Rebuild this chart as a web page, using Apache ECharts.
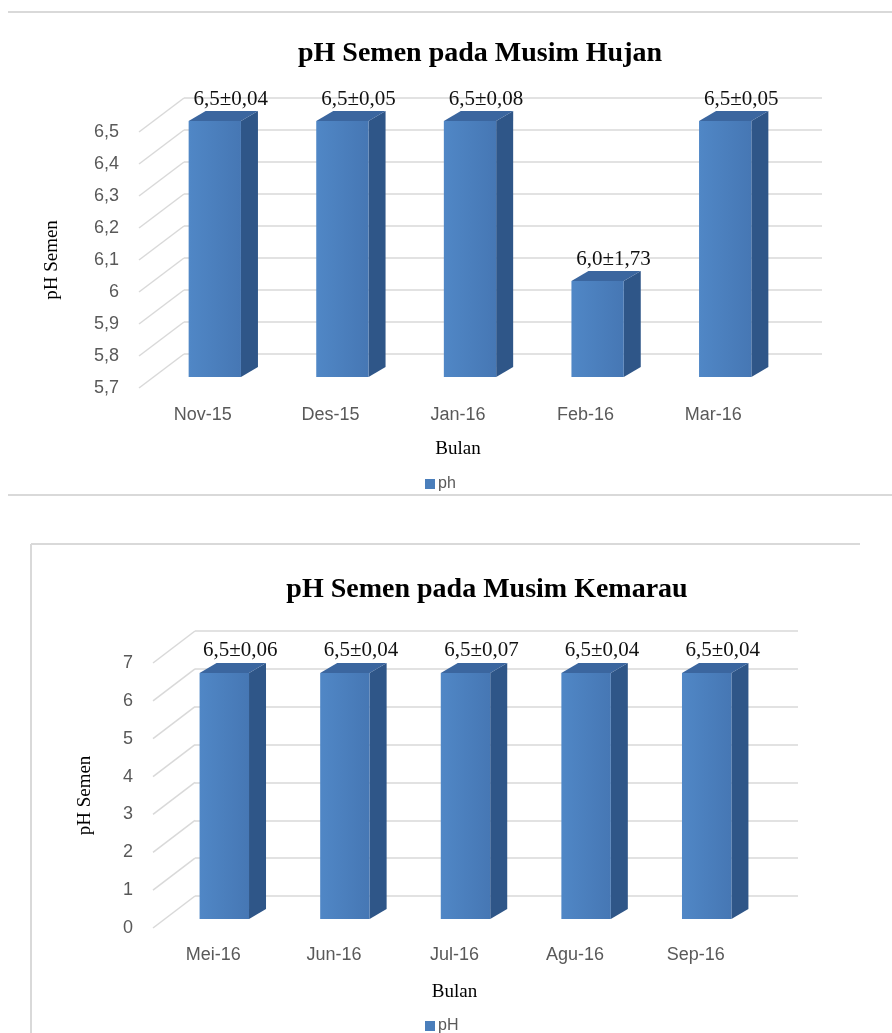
<!DOCTYPE html>
<html>
<head>
<meta charset="utf-8">
<script src="https://cdn.jsdelivr.net/npm/echarts@6/dist/echarts.min.js"></script>
<style>
  html, body { margin: 0; padding: 0; background: #fff; }
  #chart { width: 892px; height: 1033px; }
</style>
</head>
<body>
<div id="chart"></div>
<script>
// musim hujan
const hujanBulan = ['Nov-15', 'Des-15', 'Jan-16', 'Feb-16', 'Mar-16'];
const hujanPh = [6.5, 6.5, 6.5, 6.0, 6.5];
const hujanSd = [0.04, 0.05, 0.08, 1.73, 0.05];
const hujanTicks = [5.7, 5.8, 5.9, 6.0, 6.1, 6.2, 6.3, 6.4, 6.5];

// musim kemarau
const kemarauBulan = ['Mei-16', 'Jun-16', 'Jul-16', 'Agu-16', 'Sep-16'];
const kemarauPh = [6.5, 6.5, 6.5, 6.5, 6.5];
const kemarauSd = [0.06, 0.04, 0.07, 0.04, 0.04];
const kemarauTicks = [0, 1, 2, 3, 4, 5, 6, 7];

const grey = '#595959';
const gridGrey = '#d9d9d9';
const blue = '#4a7ebb';

const koma = (v, d) => v.toFixed(d).replace('.', ',');

// 3d look: back wall shift, bar front shift, bar depth
function bar3d(sd, front, side) {
  return function (params, api) {
    const i = api.value(0);
    const v = api.value(1);
    const top = api.coord([i, v]);
    const base = api.coord([i, api.value(2)]);
    const w = api.size([1, 0])[0] * 0.41;
    const x0 = top[0] - w / 2 + front[0];
    const x1 = x0 + w;
    const yt = top[1] - front[1];
    const yb = base[1] - front[1];
    const dx = side[0], dy = side[1];
    const label = koma(v, 1) + '±' + koma(sd[params.dataIndex], 2);
    return {
      type: 'group',
      children: [
        {type: 'polygon', shape: {points: [[x1, yt], [x1 + dx, yt - dy], [x1 + dx, yb - dy], [x1, yb]]},
          style: {fill: '#2f5688'}},
        {type: 'polygon', shape: {points: [[x0, yt], [x0 + dx, yt - dy], [x1 + dx, yt - dy], [x1, yt]]},
          style: {fill: '#3b669f'}},
        {type: 'rect', shape: {x: x0, y: yt, width: w, height: yb - yt},
          style: {fill: new echarts.graphic.LinearGradient(0, 0, 1, 0, [
            {offset: 0, color: '#5087c6'}, {offset: 1, color: '#4677b4'}])}},
        {type: 'text', style: {text: label, x: (x0 + x1) / 2 + 16, y: yt - 22,
          align: 'center', verticalAlign: 'middle',
          font: '21px "Liberation Serif"', fill: '#111'}}
      ]
    };
  };
}

function diagonal(shift) {
  return function (params, api) {
    const p = api.coord([0, api.value(1)]);
    const x = params.coordSys.x;
    return {
      type: 'line',
      shape: {x1: x, y1: p[1], x2: x + shift[0], y2: p[1] - shift[1]},
      style: {stroke: gridGrey, lineWidth: 1.5}
    };
  };
}

const frontY = (min, max, interval, fmt, name, gap, idx) => ({
  type: 'value', gridIndex: idx, min, max, interval,
  name, nameLocation: 'middle', nameGap: gap, nameRotate: 90,
  nameTextStyle: {fontFamily: 'Liberation Serif', fontSize: 19, color: '#000'},
  axisLine: {show: false}, axisTick: {show: false}, splitLine: {show: false},
  axisLabel: {margin: 20, fontSize: 18, color: grey, fontFamily: 'Liberation Sans', formatter: fmt}
});
const backY = (min, max, interval, idx) => ({
  type: 'value', gridIndex: idx, min, max, interval,
  axisLine: {show: false}, axisTick: {show: false}, axisLabel: {show: false},
  splitLine: {lineStyle: {color: gridGrey, width: 1.5}}
});
const frontX = (data, gap, idx) => ({
  type: 'category', gridIndex: idx, data,
  name: 'Bulan', nameLocation: 'middle', nameGap: gap,
  nameTextStyle: {fontFamily: 'Liberation Serif', fontSize: 19, color: '#000'},
  axisLine: {show: false}, axisTick: {show: false},
  axisLabel: {margin: 18, fontSize: 18, color: grey, fontFamily: 'Liberation Sans'}
});
const backX = (data, idx) => ({type: 'category', gridIndex: idx, data, show: false});

const hujanShift = [45, 34];
const kemarauShift = [42, 32];

const chart = echarts.init(document.getElementById('chart'));
chart.setOption({
  animation: false,
  backgroundColor: '#fff',
  title: [
    {text: 'pH Semen pada Musim Hujan', left: 475, top: 35, textAlign: 'center',
      textStyle: {fontFamily: 'Liberation Serif', fontWeight: 'bold', fontSize: 28, color: '#000'}},
    {text: 'pH Semen pada Musim Kemarau', left: 482, top: 571, textAlign: 'center',
      textStyle: {fontFamily: 'Liberation Serif', fontWeight: 'bold', fontSize: 28, color: '#000'}}
  ],
  legend: [
    {data: ['ph'], left: 420, top: 471, icon: 'rect', itemWidth: 10, itemHeight: 10, itemGap: 4,
      textStyle: {color: grey, fontSize: 16, fontFamily: 'Liberation Sans', padding: [0, 0, 0, -2]}},
    {data: ['pH'], left: 420, top: 1013, icon: 'rect', itemWidth: 10, itemHeight: 10, itemGap: 4,
      textStyle: {color: grey, fontSize: 16, fontFamily: 'Liberation Sans', padding: [0, 0, 0, -2]}}
  ],
  grid: [
    {left: 139, top: 132, width: 638, height: 256},
    {left: 139 + hujanShift[0], top: 132 - hujanShift[1], width: 638, height: 256},
    {left: 153, top: 663, width: 603, height: 265},
    {left: 153 + kemarauShift[0], top: 663 - kemarauShift[1], width: 603, height: 265}
  ],
  xAxis: [
    frontX(hujanBulan, 52, 0),
    backX(hujanBulan, 1),
    frontX(kemarauBulan, 55, 2),
    backX(kemarauBulan, 3)
  ],
  yAxis: [
    frontY(5.7, 6.5, 0.1, v => String(+v.toFixed(1)).replace('.', ','), 'pH Semen', 77, 0),
    backY(5.7, 6.5, 0.1, 1),
    frontY(0, 7, 1, v => String(v), 'pH Semen', 58, 2),
    backY(0, 7, 1, 3)
  ],
  graphic: [
    {type: 'line', shape: {x1: 8, y1: 12, x2: 892, y2: 12}, style: {stroke: gridGrey, lineWidth: 2}},
    {type: 'line', shape: {x1: 8, y1: 495, x2: 892, y2: 495}, style: {stroke: gridGrey, lineWidth: 2}},
    {type: 'line', shape: {x1: 31, y1: 544, x2: 860, y2: 544}, style: {stroke: gridGrey, lineWidth: 2}},
    {type: 'line', shape: {x1: 31, y1: 544, x2: 31, y2: 1033}, style: {stroke: gridGrey, lineWidth: 2}}
  ],
  series: [
    {name: 'hujanLantai', type: 'custom', xAxisIndex: 0, yAxisIndex: 0, silent: true,
      renderItem: diagonal(hujanShift), data: hujanTicks.map(v => [0, v]), encode: {x: 0, y: 1}},
    {name: 'ph', type: 'custom', xAxisIndex: 0, yAxisIndex: 0, itemStyle: {color: blue},
      renderItem: bar3d(hujanSd, [12, 11], [17, 10]),
      data: hujanPh.map((v, i) => [i, v, hujanTicks[0]]), encode: {x: 0, y: 1}},
    {name: 'kemarauLantai', type: 'custom', xAxisIndex: 2, yAxisIndex: 2, silent: true,
      renderItem: diagonal(kemarauShift), data: kemarauTicks.map(v => [0, v]), encode: {x: 0, y: 1}},
    {name: 'pH', type: 'custom', xAxisIndex: 2, yAxisIndex: 2, itemStyle: {color: blue},
      renderItem: bar3d(kemarauSd, [11, 9], [17, 10]),
      data: kemarauPh.map((v, i) => [i, v, kemarauTicks[0]]), encode: {x: 0, y: 1}}
  ]
});
</script>
</body>
</html>
